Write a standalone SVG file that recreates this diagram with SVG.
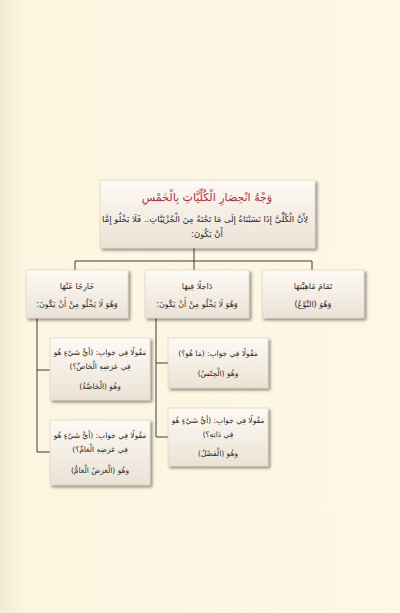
<svg xmlns="http://www.w3.org/2000/svg" width="400" height="613" viewBox="0 0 400 613">
<defs>
<linearGradient id="g" x1="0" y1="0" x2="0" y2="1">
<stop offset="0" stop-color="#fdfaf4"/>
<stop offset="1" stop-color="#ebe2d5"/>
</linearGradient>
<linearGradient id="bg" x1="0" y1="0" x2="1" y2="0">
<stop offset="0" stop-color="#f3ead0"/>
<stop offset="0.06" stop-color="#fcf5e0"/>
<stop offset="1" stop-color="#fdf7e4"/>
</linearGradient>
<filter id="sh" x="-10%" y="-10%" width="125%" height="130%">
<feGaussianBlur in="SourceAlpha" stdDeviation="1.5"/>
<feOffset dx="1.5" dy="2" result="b"/>
<feComponentTransfer><feFuncA type="linear" slope="0.45"/></feComponentTransfer>
<feMerge><feMergeNode/><feMergeNode in="SourceGraphic"/></feMerge>
</filter>
</defs>
<style>
.box{fill:url(#g);stroke:#d8cfc2;stroke-width:0.6;filter:url(#sh)}
.t{font-family:"DejaVu Sans",sans-serif;font-size:7.5px;fill:#2a2a2a;text-anchor:middle;direction:rtl}
.t2{font-family:"DejaVu Sans",sans-serif;font-size:8px;fill:#2a2a2a;text-anchor:middle;direction:rtl}
.h{font-family:"DejaVu Sans",sans-serif;font-size:11px;fill:#b0303a;text-anchor:middle;direction:rtl}
.b{font-family:"DejaVu Sans",sans-serif;font-size:8.5px;fill:#2a2a2a;direction:rtl}
.c{fill:none;stroke:#3a3a3a;stroke-width:1}
</style>
<rect width="400" height="613" fill="url(#bg)"/>
<g id="connectors">
<path class="c" d="M194,248 V261 M75,261 H312 M75,261 V270 M194,261 V270 M312,261 V270"/>
<path class="c" d="M37,318 V452 M37,370 H50 M37,452 H50"/>
<path class="c" d="M156,318 V437 M156,363 H168 M156,437 H168"/>
</g>
<g id="root">
<rect class="box" x="100" y="180" width="215" height="68"/>
<text class="h" x="207" y="201">وَجْهُ انْحِصَارِ الْكُلِّيَّاتِ بِالْخَمْسِ</text>
<text class="b" x="308" y="222" text-anchor="start">لِأَنَّ الْكُلِّيَّ إِذَا نَسَبْنَاهُ إِلَى مَا تَحْتَهُ مِنَ الْجُزْئِيَّاتِ.. فَلَا يَخْلُو إِمَّا</text>
<text class="b" x="207" y="237" text-anchor="middle">أَنْ يَكُونَ:</text>
</g>
<g id="n-nau">
<rect class="box" x="262" y="270" width="102" height="48"/>
<text class="t2" x="313" y="289">تَمَامَ مَاهِيَّتِهَا</text>
<text class="t2" x="313" y="307">وَهُوَ (النَّوْعُ)</text>
</g>
<g id="n-dakhil">
<rect class="box" x="145" y="270" width="104" height="48"/>
<text class="t2" x="197" y="289">دَاخِلًا فِيهَا</text>
<text class="t2" x="197" y="307">وَهُوَ لَا يَخْلُو مِنْ أَنْ يَكُونَ:</text>
</g>
<g id="n-kharij">
<rect class="box" x="26" y="270" width="102" height="48"/>
<text class="t2" x="77" y="289">خَارِجًا عَنْهَا</text>
<text class="t2" x="77" y="307">وَهُوَ لَا يَخْلُو مِنْ أَنْ يَكُونَ:</text>
</g>
<g id="n-jins">
<rect class="box" x="168" y="338" width="100" height="50"/>
<text class="t" x="218" y="356">مَقُولًا فِي جَوَابِ: (مَا هُوَ؟)</text>
<text class="t" x="218" y="376">وَهُوَ (الْجِنْسُ)</text>
</g>
<g id="n-fasl">
<rect class="box" x="168" y="408" width="100" height="58"/>
<text class="t" x="218" y="423">مَقُولًا فِي جَوَابِ: (أَيُّ شَيْءٍ هُوَ</text>
<text class="t" x="218" y="437">فِي ذَاتِهِ؟)</text>
<text class="t" x="218" y="456">وَهُوَ (الْفَصْلُ)</text>
</g>
<g id="n-khassa">
<rect class="box" x="50" y="338" width="100" height="62"/>
<text class="t" x="100" y="355">مَقُولًا فِي جَوَابِ: (أَيُّ شَيْءٍ هُوَ</text>
<text class="t" x="100" y="369">فِي عَرَضِهِ الْخَاصِّ؟)</text>
<text class="t" x="100" y="389">وَهُوَ (الْخَاصَّةُ)</text>
</g>
<g id="n-aam">
<rect class="box" x="50" y="420" width="100" height="65"/>
<text class="t" x="100" y="438">مَقُولًا فِي جَوَابِ: (أَيُّ شَيْءٍ هُوَ</text>
<text class="t" x="100" y="452">فِي عَرَضِهِ الْعَامِّ؟)</text>
<text class="t" x="100" y="473">وَهُوَ (الْعَرَضُ الْعَامُّ)</text>
</g>
</svg>
